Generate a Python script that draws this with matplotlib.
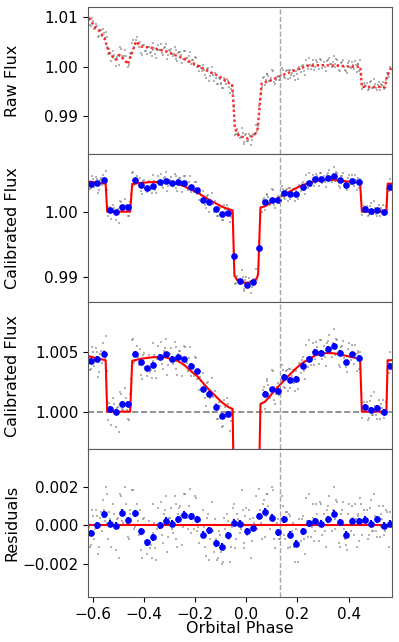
import matplotlib
matplotlib.use('Agg')
import matplotlib.pyplot as plt

plt.rcParams['font.family'] = ['DejaVu Sans']
plt.rcParams['font.size'] = 11
plt.rcParams['axes.labelsize'] = 11.5

# binned points (phase, calibrated flux, residual)
bin_phase = [-0.6080, -0.5836, -0.5593, -0.5349, -0.5106, -0.4862, -0.4618, -0.4375, -0.4131, -0.3888,
             -0.3644, -0.3400, -0.3157, -0.2913, -0.2670, -0.2426, -0.2182, -0.1939, -0.1695, -0.1452,
             -0.1208, -0.0964, -0.0721, -0.0477, -0.0234, 0.0010, 0.0254, 0.0497, 0.0741, 0.0984,
             0.1228, 0.1472, 0.1715, 0.1959, 0.2202, 0.2446, 0.2690, 0.2933, 0.3177, 0.3420,
             0.3664, 0.3908, 0.4151, 0.4395, 0.4638, 0.4882, 0.5126, 0.5369, 0.5613]
bin_flux = [1.00422, 1.00444, 1.00486, 1.00025, 1.00000, 1.00067, 1.00067, 1.00486, 1.00411, 1.00361,
            1.00394, 1.00458, 1.00478, 1.00442, 1.00453, 1.00436, 1.00381, 1.00336, 1.00186, 1.00147,
            1.00039, 0.99964, 0.99981, 0.99323, 0.98938, 0.98882, 0.98918, 0.99441, 1.00150, 1.00186,
            1.00175, 1.00292, 1.00264, 1.00272, 1.00381, 1.00442, 1.00497, 1.00494, 1.00522, 1.00547,
            1.00489, 1.00411, 1.00478, 1.00450, 1.00042, 1.00014, 1.00031, 0.99997, 1.00381]
bin_resid = [-0.00040, 0.00000, 0.00057, 0.00007, -0.00003, 0.00066, 0.00026, 0.00061, -0.00031, -0.00088,
             -0.00062, 0.00000, 0.00024, 0.00007, 0.00031, 0.00055, 0.00047, 0.00031, -0.00048, -0.00026,
             -0.00092, -0.00111, -0.00052, 0.00014, 0.00007, -0.00031, -0.00012, 0.00048, 0.00069, 0.00038,
             -0.00036, 0.00031, -0.00048, -0.00095, -0.00031, 0.00010, 0.00022, 0.00007, 0.00031, 0.00059,
             0.00016, -0.00048, 0.00020, 0.00020, 0.00028, 0.00007, 0.00031, -0.00003, 0.00008]
bin_err = 0.00024

# astrophysical model
model_phase = [-0.620, -0.584, -0.551, -0.545, -0.455, -0.447, -0.413, -0.364, -0.316, -0.267,
               -0.243, -0.218, -0.194, -0.170, -0.145, -0.121, -0.096, -0.072, -0.054, -0.047,
               -0.035, -0.015, 0.000, 0.015, 0.030, 0.042, 0.046, 0.055, 0.074, 0.098,
               0.123, 0.147, 0.171, 0.196, 0.220, 0.245, 0.269, 0.293, 0.318, 0.342,
               0.366, 0.391, 0.415, 0.445, 0.452, 0.548, 0.553, 0.570]
model_flux = [1.00465, 1.00445, 1.00430, 1.00000, 1.00000, 1.00425, 1.00442, 1.00456, 1.00454, 1.00422,
              1.00390, 1.00340, 1.00300, 1.00240, 1.00180, 1.00130, 1.00078, 1.00040, 1.00022, 0.99020,
              0.98945, 0.98915, 0.98910, 0.98915, 0.98935, 0.98990, 0.99050, 1.00062, 1.00085, 1.00145,
              1.00205, 1.00260, 1.00312, 1.00365, 1.00408, 1.00440, 1.00470, 1.00486, 1.00490, 1.00488,
              1.00478, 1.00466, 1.00455, 1.00440, 1.00000, 1.00000, 1.00430, 1.00430]

# full model incl. systematics (raw panel)
raw_model_phase = [-0.615, -0.600, -0.589, -0.575, -0.556, -0.545, -0.536, -0.523, -0.510, -0.497,
                   -0.488, -0.478, -0.464, -0.451, -0.432, -0.412, -0.366, -0.314, -0.262, -0.209,
                   -0.157, -0.105, -0.066, -0.056, -0.050, -0.045, -0.030, 0.007, 0.034, 0.044,
                   0.052, 0.060, 0.099, 0.138, 0.190, 0.243, 0.295, 0.360, 0.413, 0.446,
                   0.452, 0.543, 0.550, 0.569]
raw_model_flux = [1.0099, 1.0086, 1.0078, 1.0072, 1.0058, 1.0040, 1.0027, 1.0020, 1.0014, 1.0024,
                  1.0019, 1.0014, 1.0005, 1.0024, 1.0051, 1.0041, 1.0038, 1.0031, 1.0020, 1.0007,
                  0.9993, 0.9980, 0.9966, 0.9964, 0.9920, 0.9874, 0.9860, 0.9854, 0.9863, 0.9874,
                  0.9922, 0.9966, 0.9973, 0.9982, 0.9993, 1.0002, 1.0003, 1.0002, 1.0000, 1.0000,
                  0.9959, 0.9959, 0.9980, 1.0000]

# unbinned data, first half of the frames
pt_phase = [-0.6150, -0.6075, -0.6000, -0.5925, -0.5850, -0.5775, -0.5700, -0.5625, -0.5550, -0.5475,
            -0.5400, -0.5325, -0.5250, -0.5175, -0.5100, -0.5025, -0.4950, -0.4875, -0.4800, -0.4725,
            -0.4650, -0.4575, -0.4500, -0.4425, -0.4350, -0.4275, -0.4200, -0.4125, -0.4050, -0.3975,
            -0.3900, -0.3825, -0.3750, -0.3675, -0.3600, -0.3525, -0.3450, -0.3375, -0.3300, -0.3225,
            -0.3150, -0.3075, -0.3000, -0.2925, -0.2850, -0.2775, -0.2700, -0.2625, -0.2550, -0.2475,
            -0.2400, -0.2325, -0.2250, -0.2175, -0.2100, -0.2025, -0.1950, -0.1875, -0.1800, -0.1725,
            -0.1650, -0.1575, -0.1500, -0.1425, -0.1350, -0.1275, -0.1200, -0.1125, -0.1050, -0.0975,
            -0.0900, -0.0825, -0.0750, -0.0675, -0.0600, -0.0525, -0.0450, -0.0375, -0.0300, -0.0225,
            -0.0150, -0.0075, 0.0000, 0.0075, 0.0150, 0.0225, 0.0300, 0.0375, 0.0450, 0.0525,
            0.0600, 0.0675, 0.0750, 0.0825, 0.0900, 0.0975, 0.1050, 0.1125, 0.1200, 0.1275,
            0.1350, 0.1425, 0.1500, 0.1575, 0.1650, 0.1725, 0.1800, 0.1875, 0.1950, 0.2025,
            0.2100, 0.2175, 0.2250, 0.2325, 0.2400, 0.2475, 0.2550, 0.2625, 0.2700, 0.2775,
            0.2850, 0.2925, 0.3000, 0.3075, 0.3150, 0.3225, 0.3300, 0.3375, 0.3450, 0.3525,
            0.3600, 0.3675, 0.3750, 0.3825, 0.3900, 0.3975, 0.4050, 0.4125, 0.4200, 0.4275,
            0.4350, 0.4425, 0.4500, 0.4575, 0.4650, 0.4725, 0.4800, 0.4875, 0.4950, 0.5025,
            0.5100, 0.5175, 0.5250, 0.5325, 0.5400, 0.5475, 0.5550, 0.5625]
pt_raw = [1.0098, 1.0083, 1.0092, 1.0079, 1.0082, 1.0062, 1.0075, 1.0077, 1.0058, 1.0061,
          1.0026, 1.0028, 1.0022, 1.0024, 1.0001, 1.0024, 1.0039, 1.0021, 1.0022, 1.0021,
          1.0000, 1.0020, 1.0026, 1.0054, 1.0046, 1.0060, 1.0040, 1.0028, 1.0044, 1.0032,
          1.0025, 1.0041, 1.0029, 1.0034, 1.0038, 1.0018, 1.0044, 1.0033, 1.0028, 1.0038,
          1.0046, 1.0024, 1.0032, 1.0025, 1.0026, 1.0034, 1.0011, 1.0029, 1.0023, 1.0016,
          1.0031, 1.0017, 1.0021, 1.0005, 1.0013, 1.0020, 1.0000, 1.0001, 1.0001, 0.9991,
          0.9994, 0.9977, 0.9997, 0.9982, 1.0000, 0.9972, 0.9977, 0.9965, 0.9975, 0.9966,
          0.9956, 0.9970, 0.9975, 0.9959, 0.9954, 0.9947, 0.9862, 0.9873, 0.9862, 0.9857,
          0.9866, 0.9844, 0.9864, 0.9850, 0.9860, 0.9851, 0.9862, 0.9882, 0.9880, 0.9933,
          0.9959, 0.9980, 0.9974, 0.9986, 0.9971, 0.9978, 0.9992, 0.9964, 0.9979, 0.9973,
          0.9984, 0.9993, 0.9978, 0.9993, 0.9994, 0.9978, 0.9988, 0.9981, 0.9992, 0.9976,
          0.9996, 1.0001, 0.9992, 1.0014, 0.9995, 1.0004, 1.0001, 1.0013, 1.0000, 1.0009,
          0.9995, 1.0014, 1.0004, 1.0000, 1.0011, 1.0018, 1.0006, 1.0010, 1.0000, 1.0015,
          1.0003, 0.9991, 1.0009, 0.9999, 0.9991, 1.0007, 1.0000, 1.0010, 0.9995, 1.0003,
          1.0006, 0.9992, 0.9984, 0.9959, 0.9962, 0.9967, 0.9954, 0.9972, 0.9956, 0.9964,
          0.9953, 0.9969, 0.9958, 0.9962, 0.9954, 0.9973, 0.9984, 1.0000]
pt_calib = [1.0045, 1.0036, 1.0050, 1.0043, 1.0050, 1.0033, 1.0051, 1.0057, 1.0045, 1.0034,
            0.9993, 1.0003, 1.0000, 1.0006, 0.9987, 1.0004, 1.0016, 1.0002, 1.0007, 1.0011,
            0.9994, 1.0006, 1.0027, 1.0061, 1.0042, 1.0055, 1.0039, 1.0031, 1.0047, 1.0037,
            1.0030, 1.0047, 1.0035, 1.0042, 1.0047, 1.0028, 1.0055, 1.0045, 1.0040, 1.0051,
            1.0061, 1.0039, 1.0048, 1.0042, 1.0044, 1.0054, 1.0031, 1.0051, 1.0046, 1.0039,
            1.0054, 1.0041, 1.0045, 1.0030, 1.0039, 1.0046, 1.0027, 1.0028, 1.0029, 1.0019,
            1.0022, 1.0005, 1.0025, 1.0011, 1.0028, 1.0000, 1.0006, 0.9994, 1.0005, 0.9997,
            0.9988, 1.0004, 1.0011, 0.9996, 0.9992, 0.9990, 0.9889, 0.9901, 0.9896, 0.9891,
            0.9900, 0.9879, 0.9900, 0.9887, 0.9894, 0.9885, 0.9895, 0.9912, 0.9904, 0.9986,
            1.0000, 1.0021, 1.0014, 1.0027, 1.0012, 1.0019, 1.0034, 1.0006, 1.0021, 1.0014,
            1.0026, 1.0035, 1.0020, 1.0035, 1.0036, 1.0020, 1.0030, 1.0024, 1.0034, 1.0019,
            1.0039, 1.0043, 1.0034, 1.0056, 1.0037, 1.0046, 1.0044, 1.0057, 1.0044, 1.0054,
            1.0040, 1.0060, 1.0050, 1.0046, 1.0057, 1.0064, 1.0052, 1.0057, 1.0047, 1.0061,
            1.0049, 1.0037, 1.0055, 1.0045, 1.0037, 1.0052, 1.0046, 1.0056, 1.0040, 1.0048,
            1.0051, 1.0036, 1.0024, 1.0000, 1.0003, 1.0008, 0.9995, 1.0013, 0.9997, 1.0005,
            0.9994, 1.0010, 0.9999, 1.0003, 0.9995, 1.0008, 1.0042, 1.0050]
# residuals in ppt
pt_resid_ppt = [-0.1, -1.0, 0.5, -0.2, 0.5, -1.1, 0.7, 1.3, 0.2, 1.6,
                -0.7, 0.3, 0.0, 0.6, -1.3, 0.4, 1.6, 0.2, 0.7, 1.1,
                -0.6, 0.6, 0.0, 1.8, -0.1, 1.1, -0.5, -1.3, 0.3, -0.8,
                -1.5, 0.2, -1.0, -0.4, 0.1, -1.8, 0.9, -0.1, -0.5, 0.6,
                1.5, -0.6, 0.4, -0.2, 0.1, 1.1, -1.1, 0.9, 0.5, -0.1,
                1.6, 0.4, 1.0, -0.4, 0.6, 1.5, -0.3, 0.0, 0.2, -0.6,
                -0.1, -1.6, 0.6, -0.7, 1.2, -1.4, -0.7, -1.7, -0.5, -1.1,
                -1.9, -0.2, 0.6, -0.7, -1.1, 0.9, -1.2, 0.6, 0.2, -0.2,
                0.8, -1.2, 0.9, -0.4, 0.3, -0.8, 0.1, 1.5, 0.0, 0.8,
                -0.7, 1.3, 0.5, 1.6, 0.0, 0.5, 1.8, -1.2, 0.1, -0.7,
                0.3, 1.0, -0.7, 0.7, 0.6, -1.1, -0.3, -1.1, -0.2, -1.9,
                0.0, 0.3, -0.7, 1.4, -0.6, 0.2, -0.1, 1.1, -0.3, 0.6,
                -0.8, 1.1, 0.1, -0.3, 0.8, 1.5, 0.3, 0.8, -0.2, 1.3,
                0.1, -1.1, 0.8, -0.2, -1.0, 0.6, 0.0, 1.0, -0.5, 0.3,
                0.6, -0.8, 1.1, 0.0, 0.3, 0.8, -0.5, 1.3, -0.3, 0.5,
                -0.6, 1.0, -0.1, 0.3, -0.5, 0.8, -0.1, 0.7]

# unbinned data, second half of the frames
pt_phase2 = [-0.61125, -0.60375, -0.59625, -0.58875, -0.58125, -0.57375, -0.56625, -0.55875, -0.55125, -0.54375,
             -0.53625, -0.52875, -0.52125, -0.51375, -0.50625, -0.49875, -0.49125, -0.48375, -0.47625, -0.46875,
             -0.46125, -0.45375, -0.44625, -0.43875, -0.43125, -0.42375, -0.41625, -0.40875, -0.40125, -0.39375,
             -0.38625, -0.37875, -0.37125, -0.36375, -0.35625, -0.34875, -0.34125, -0.33375, -0.32625, -0.31875,
             -0.31125, -0.30375, -0.29625, -0.28875, -0.28125, -0.27375, -0.26625, -0.25875, -0.25125, -0.24375,
             -0.23625, -0.22875, -0.22125, -0.21375, -0.20625, -0.19875, -0.19125, -0.18375, -0.17625, -0.16875,
             -0.16125, -0.15375, -0.14625, -0.13875, -0.13125, -0.12375, -0.11625, -0.10875, -0.10125, -0.09375,
             -0.08625, -0.07875, -0.07125, -0.06375, -0.05625, -0.04875, -0.04125, -0.03375, -0.02625, -0.01875,
             -0.01125, -0.00375, 0.00375, 0.01125, 0.01875, 0.02625, 0.03375, 0.04125, 0.04875, 0.05625,
             0.06375, 0.07125, 0.07875, 0.08625, 0.09375, 0.10125, 0.10875, 0.11625, 0.12375, 0.13125,
             0.13875, 0.14625, 0.15375, 0.16125, 0.16875, 0.17625, 0.18375, 0.19125, 0.19875, 0.20625,
             0.21375, 0.22125, 0.22875, 0.23625, 0.24375, 0.25125, 0.25875, 0.26625, 0.27375, 0.28125,
             0.28875, 0.29625, 0.30375, 0.31125, 0.31875, 0.32625, 0.33375, 0.34125, 0.34875, 0.35625,
             0.36375, 0.37125, 0.37875, 0.38625, 0.39375, 0.40125, 0.40875, 0.41625, 0.42375, 0.43125,
             0.43875, 0.44625, 0.45375, 0.46125, 0.46875, 0.47625, 0.48375, 0.49125, 0.49875, 0.50625,
             0.51375, 0.52125, 0.52875, 0.53625, 0.54375, 0.55125, 0.55875]
pt_raw2 = [1.0085, 1.0098, 1.0077, 1.0087, 1.0060, 1.0075, 1.0063, 1.0068, 1.0071, 1.0040,
           1.0036, 1.0012, 1.0031, 1.0015, 1.0020, 1.0004, 1.0036, 1.0018, 1.0033, 1.0009,
           1.0003, 1.0028, 1.0049, 1.0040, 1.0055, 1.0049, 1.0051, 1.0024, 1.0044, 1.0031,
           1.0039, 1.0027, 1.0021, 1.0049, 1.0025, 1.0034, 1.0034, 1.0046, 1.0024, 1.0040,
           1.0016, 1.0033, 1.0036, 1.0022, 1.0039, 1.0016, 1.0027, 1.0029, 1.0007, 1.0032,
           1.0018, 1.0010, 1.0029, 1.0014, 1.0004, 1.0018, 1.0001, 0.9991, 0.9998, 1.0004,
           0.9983, 0.9996, 0.9972, 0.9988, 0.9984, 0.9988, 0.9965, 0.9978, 0.9965, 0.9956,
           0.9977, 0.9965, 0.9970, 0.9947, 0.9963, 0.9919, 0.9863, 0.9866, 0.9855, 0.9876,
           0.9848, 0.9861, 0.9849, 0.9863, 0.9841, 0.9864, 0.9863, 0.9869, 0.9921, 0.9946,
           0.9978, 0.9962, 0.9985, 0.9981, 0.9970, 0.9993, 0.9968, 0.9973, 0.9982, 0.9973,
           0.9997, 0.9979, 0.9992, 0.9975, 0.9994, 0.9984, 0.9993, 0.9974, 0.9986, 0.9999,
           0.9989, 1.0003, 0.9984, 1.0003, 1.0018, 0.9996, 1.0006, 0.9994, 1.0014, 1.0003,
           1.0015, 0.9998, 1.0009, 0.9992, 1.0013, 1.0006, 0.9999, 1.0022, 1.0005, 1.0014,
           0.9993, 1.0008, 1.0013, 0.9994, 0.9988, 1.0012, 0.9997, 1.0004, 1.0011, 0.9989,
           1.0005, 1.0013, 0.9954, 0.9967, 0.9961, 0.9952, 0.9968, 0.9956, 0.9975, 0.9956,
           0.9963, 0.9953, 0.9965, 0.9969, 0.9956, 0.9988, 0.9979]
pt_calib2 = [1.0035, 1.0054, 1.0038, 1.0053, 1.0029, 1.0048, 1.0041, 1.0051, 1.0063, 1.0001,
             1.0007, 0.9989, 1.0011, 0.9999, 1.0003, 0.9983, 1.0015, 1.0001, 1.0020, 1.0001,
             0.9993, 1.0015, 1.0060, 1.0041, 1.0050, 1.0046, 1.0052, 1.0027, 1.0049, 1.0036,
             1.0045, 1.0033, 1.0028, 1.0057, 1.0034, 1.0044, 1.0045, 1.0058, 1.0036, 1.0053,
             1.0031, 1.0049, 1.0053, 1.0040, 1.0058, 1.0036, 1.0048, 1.0051, 1.0030, 1.0055,
             1.0042, 1.0034, 1.0054, 1.0039, 1.0030, 1.0045, 1.0028, 1.0018, 1.0026, 1.0032,
             1.0011, 1.0024, 1.0000, 1.0017, 1.0012, 1.0017, 0.9994, 1.0008, 0.9995, 0.9987,
             1.0010, 0.9999, 1.0006, 0.9984, 1.0001, 0.9938, 0.9891, 0.9897, 0.9889, 0.9910,
             0.9882, 0.9896, 0.9886, 0.9899, 0.9875, 0.9897, 0.9894, 0.9896, 0.9955, 1.0007,
             1.0018, 1.0002, 1.0026, 1.0022, 1.0011, 1.0035, 1.0010, 1.0015, 1.0024, 1.0015,
             1.0039, 1.0021, 1.0034, 1.0017, 1.0036, 1.0026, 1.0035, 1.0017, 1.0029, 1.0041,
             1.0032, 1.0046, 1.0027, 1.0045, 1.0060, 1.0039, 1.0050, 1.0039, 1.0058, 1.0048,
             1.0060, 1.0044, 1.0055, 1.0038, 1.0059, 1.0052, 1.0046, 1.0069, 1.0052, 1.0060,
             1.0039, 1.0054, 1.0059, 1.0040, 1.0033, 1.0057, 1.0043, 1.0049, 1.0056, 1.0034,
             1.0049, 1.0050, 0.9995, 1.0008, 1.0002, 0.9993, 1.0009, 0.9997, 1.0016, 0.9997,
             1.0004, 0.9994, 1.0006, 1.0010, 0.9997, 1.0035, 1.0032]
pt_resid2_ppt = [-1.1, 0.8, -0.7, 0.8, -1.5, 0.4, -0.3, 0.8, 2.0, 0.1,
                 0.7, -1.1, 1.1, -0.1, 0.3, -1.7, 1.5, 0.1, 2.0, 0.1,
                 -0.7, 0.8, 1.8, -0.2, 0.7, 0.2, 0.8, -1.7, 0.4, -0.9,
                 0.0, -1.2, -1.7, 1.1, -1.2, -0.2, -0.1, 1.2, -0.9, 0.8,
                 -1.4, 0.4, 0.9, -0.4, 1.5, -0.7, 0.6, 1.0, -1.0, 1.6,
                 0.4, -0.2, 1.9, 0.6, -0.2, 1.4, -0.1, -0.9, 0.0, 0.8,
                 -1.1, 0.4, -1.8, 0.0, -0.3, 0.3, -1.8, -0.3, -1.4, -2.0,
                 0.4, -0.6, 0.2, -1.9, -0.1, 1.1, -0.7, 0.3, -0.4, 1.8,
                 -0.9, 0.5, -0.5, 0.8, -1.7, 0.4, 0.0, -0.2, 1.9, 0.1,
                 1.1, -0.6, 1.6, 1.0, -0.2, 2.0, -0.7, -0.4, 0.3, -0.7,
                 1.5, -0.5, 0.7, -1.2, 0.5, -0.6, 0.1, -1.9, -0.8, 0.3,
                 -0.8, 0.5, -1.5, 0.2, 1.6, -0.6, 0.4, -0.8, 1.1, 0.0,
                 1.2, -0.5, 0.6, -1.1, 1.0, 0.3, -0.3, 2.0, 0.3, 1.2,
                 -0.9, 0.6, 1.2, -0.7, -1.3, 1.1, -0.3, 0.4, 1.1, -1.1,
                 0.5, 1.4, -0.5, 0.8, 0.2, -0.7, 0.9, -0.3, 1.6, -0.3,
                 0.4, -0.6, 0.6, 1.0, -0.3, 0.7, -1.1]

all_phase = pt_phase + pt_phase2
all_raw = pt_raw + pt_raw2
all_calib = pt_calib + pt_calib2
all_resid = [r / 1000.0 for r in pt_resid_ppt + pt_resid2_ppt]

mark_phase = 0.133

fig, axes = plt.subplots(4, 1, sharex=True, figsize=(3.99, 6.42), dpi=100)
fig.subplots_adjust(left=0.2206, right=0.9825, top=0.9891, bottom=0.0701, hspace=0)
ax1, ax2, ax3, ax4 = axes

grey_kw = dict(ls='none', marker='s', ms=1.6, mew=0, color='0.4', alpha=0.5)

# raw
ax1.plot(all_phase, all_raw, **grey_kw)
ax1.plot(raw_model_phase, raw_model_flux, color='red', ls=(0, (1, 1)), lw=1.8, alpha=0.8)
ax1.set_ylim(0.98218, 1.01212)
ax1.set_yticks([0.99, 1.00, 1.01])
ax1.set_yticklabels(['0.99', '1.00', '1.01'])
ax1.set_ylabel('Raw Flux')

# calibrated, full range
ax2.plot(all_phase, all_calib, **grey_kw)
ax2.plot(model_phase, model_flux, color='red', lw=1.5)
ax2.plot(bin_phase, bin_flux, 'o', color='blue', ms=3.8)
ax2.set_ylim(0.98615, 1.00877)
ax2.set_yticks([0.99, 1.00])
ax2.set_yticklabels(['0.99', '1.00'])
ax2.set_ylabel('Calibrated Flux')

# calibrated, zoom
ax3.plot(all_phase, all_calib, **grey_kw)
ax3.axhline(1.0, color='0.5', ls='--', lw=1.2)
ax3.plot(model_phase, model_flux, color='red', lw=1.5)
ax3.errorbar(bin_phase, bin_flux, yerr=bin_err, fmt='o', color='blue', ms=3.8,
             elinewidth=1.5, capsize=0)
ax3.set_ylim(0.99683, 1.00917)
ax3.set_yticks([1.000, 1.005])
ax3.set_yticklabels(['1.000', '1.005'])
ax3.set_ylabel('Calibrated Flux')

# residuals
ax4.plot(all_phase, all_resid, **grey_kw)
ax4.errorbar(bin_phase, bin_resid, yerr=bin_err * 0.75, fmt='o', color='blue', ms=3.8,
             elinewidth=1.5, capsize=0)
ax4.axhline(0.0, color='red', lw=1.5)
ax4.set_ylim(-0.00371, 0.00392)
ax4.set_yticks([-0.002, 0.000, 0.002])
ax4.set_yticklabels(['\u22120.002', '0.000', '0.002'])
ax4.set_ylabel('Residuals')

for ax in axes:
    ax.axvline(mark_phase, color='0.65', ls='--', lw=1.0)
    for s in ax.spines.values():
        s.set_color('0.35')
    ax.yaxis.set_label_coords(-0.225, 0.5)

ax4.set_xlim(-0.62, 0.57)
ax4.set_xticks([-0.6, -0.4, -0.2, 0.0, 0.2, 0.4])
ax4.set_xticklabels(['\u22120.6', '\u22120.4', '\u22120.2', '0.0', '0.2', '0.4'])
ax4.set_xlabel('Orbital Phase')
ax4.xaxis.set_label_coords(0.5, -0.16)

fig.savefig('out.png', dpi=100)
